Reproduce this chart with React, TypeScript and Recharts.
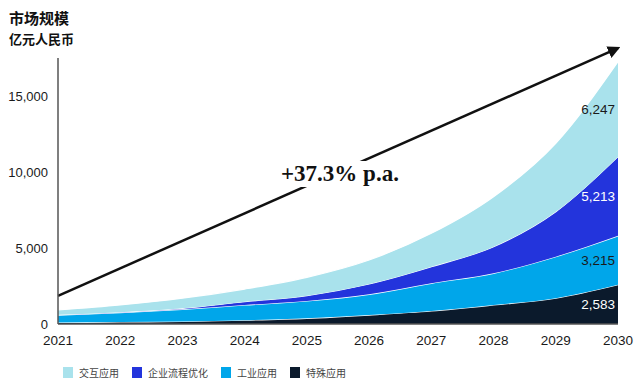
import { Area, AreaChart, ReferenceDot, ReferenceLine, XAxis, YAxis } from 'recharts';

const YEARS = ['2021', '2022', '2023', '2024', '2025', '2026', '2027', '2028', '2029', '2030'];
// 亿元人民币
const SPECIAL = [100, 130, 170, 250, 375, 590, 855, 1250, 1700, 2583];
const INDUSTRY = [490, 616, 795, 1000, 1138, 1364, 1822, 2085, 2730, 3215];
const ENTERPRISE = [20, 30, 65, 220, 352, 678, 1093, 1752, 2960, 5213];
const INTERACTIVE = [310, 480, 670, 830, 1205, 1579, 2196, 3289, 4500, 6247];
const Y_TICKS = [0, 5000, 10000, 15000];
const GROWTH_LABEL = '+37.3% p.a.';
const ARROW_FROM = 1850;
const ARROW_TO = 18150;

const SERIES = [
  { key: 'special', name: '特殊应用', values: SPECIAL, color: '#0b1a2c', labelColor: '#ffffff' },
  { key: 'industry', name: '工业应用', values: INDUSTRY, color: '#00a6ea', labelColor: '#1a1a1a' },
  { key: 'enterprise', name: '企业流程优化', values: ENTERPRISE, color: '#2334dc', labelColor: '#ffffff' },
  { key: 'interactive', name: '交互应用', values: INTERACTIVE, color: '#a9e2ec', labelColor: '#1a1a1a' },
];
const LEGEND_ORDER = ['interactive', 'enterprise', 'industry', 'special'];

const SANS = "'Liberation Sans', Arial, sans-serif";
const CJK = "'Noto Sans CJK SC', sans-serif";

const data = YEARS.map((year, i) => {
  const row: Record<string, string | number> = { year };
  for (const s of SERIES) row[s.key] = s.values[i];
  return row;
});

// midpoints of each band in the last year, for the value labels
const last = YEARS.length - 1;
let running = 0;
const endLabels = SERIES.map((s) => {
  const v = s.values[last];
  const mid = running + v / 2;
  running += v;
  return { ...s, mid, text: v.toLocaleString('en-US') };
});

export default function App() {
  return (
    <div style={{ position: 'absolute', left: 0, top: 0, width: 635, height: 383, background: '#fff' }}>
      <AreaChart width={635} height={383} data={data} margin={{ top: 58, right: 17, left: 0, bottom: 29 }}>
        <defs>
          <marker id="arrowHead" viewBox="0 0 10 10" refX="8" refY="5" markerWidth="5" markerHeight="5" orient="auto">
            <path d="M0,0 L10,5 L0,10 z" fill="#111" />
          </marker>
        </defs>
        <XAxis
          dataKey="year"
          tickLine={false}
          axisLine={{ stroke: '#555', strokeWidth: 1.5 }}
          tick={{ fontSize: 13.5, fill: '#1a1a1a', fontFamily: SANS }}
          tickMargin={5}
          height={30}
          interval={0}
        />
        <YAxis
          domain={[0, 17500]}
          ticks={Y_TICKS}
          tickFormatter={(v: number) => v.toLocaleString('en-US')}
          tickLine={false}
          axisLine={{ stroke: '#555', strokeWidth: 1.5 }}
          tick={{ fontSize: 13, fill: '#1a1a1a', fontFamily: SANS }}
          tickMargin={4}
          width={58}
        />
        {SERIES.map((s) => (
          <Area
            key={s.key}
            type="monotone"
            dataKey={s.key}
            name={s.name}
            stackId="a"
            stroke="#ffffff"
            strokeWidth={1.2}
            fill={s.color}
            fillOpacity={1}
            isAnimationActive={false}
          />
        ))}
        <ReferenceLine
          segment={[{ x: YEARS[0], y: ARROW_FROM }, { x: YEARS[last], y: ARROW_TO }]}
          stroke="#111"
          strokeWidth={2.5}
          ifOverflow="visible"
          markerEnd="url(#arrowHead)"
        />
        {endLabels.map((l) => (
          <ReferenceDot
            key={l.key}
            x={YEARS[last]}
            y={l.mid}
            r={0}
            stroke="none"
            fill="none"
            label={{ value: l.text, position: 'left', offset: 3, fill: l.labelColor, fontSize: 13.5, fontFamily: SANS }}
          />
        ))}
      </AreaChart>

      <div style={{ position: 'absolute', left: 9, top: 9, fontFamily: CJK, fontWeight: 700, fontSize: 15, lineHeight: '17px', color: '#111' }}>
        市场规模
      </div>
      <div style={{ position: 'absolute', left: 9, top: 31, fontFamily: CJK, fontWeight: 700, fontSize: 13, lineHeight: '15px', color: '#111' }}>
        亿元人民币
      </div>

      <div
        style={{
          position: 'absolute',
          left: 276,
          top: 161,
          padding: '0 5px',
          background: '#fff',
          fontFamily: "'Liberation Serif', 'Times New Roman', serif",
          fontWeight: 700,
          fontSize: 23,
          lineHeight: '26px',
          color: '#111',
        }}
      >
        {GROWTH_LABEL}
      </div>

      <div style={{ position: 'absolute', left: 63, top: 365, display: 'flex', alignItems: 'center', height: 14 }}>
        {LEGEND_ORDER.map((k) => {
          const s = SERIES.find((x) => x.key === k)!;
          return (
            <div key={k} style={{ display: 'flex', alignItems: 'center', marginRight: 13 }}>
              <span style={{ width: 10, height: 11, background: s.color, marginRight: 6, display: 'inline-block' }} />
              <span style={{ fontFamily: CJK, fontSize: 10, color: '#444' }}>{s.name}</span>
            </div>
          );
        })}
      </div>
    </div>
  );
}
